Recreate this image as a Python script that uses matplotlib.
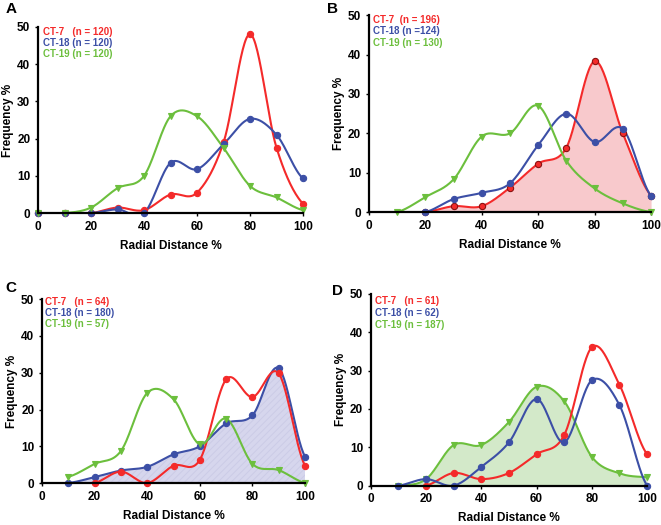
import numpy as np
import matplotlib.pyplot as plt

plt.rcParams['font.family'] = ['Liberation Sans', 'DejaVu Sans']
plt.rcParams['font.weight'] = 'bold'
plt.rcParams['hatch.linewidth'] = 0.6

RED = '#f42a2a'
BLUE = '#3c4fa6'
GREEN = '#6cbf3d'

# panel A
a_x = [0, 10, 20, 30, 40, 50, 60, 70, 80, 90, 100]
a_ct7 = [0, 0, 0, 1.5, 0.8, 5, 5.5, 19, 48, 17.5, 2.5]
a_ct18 = [0, 0, 0, 1, 0, 13.5, 11.8, 18.5, 25.3, 21, 9.3]
a_ct19 = [0, 0, 1.5, 6.7, 10, 26, 26, 17.5, 7.3, 4.2, 0.8]
a_labels = ['CT-7   (n = 120)', 'CT-18 (n = 120)', 'CT-19 (n = 120)']

# panel B
b_x7 = [20, 30, 40, 50, 60, 70, 80, 90, 100]
b_ct7 = [0, 1.5, 1.5, 6.2, 12.3, 16.4, 38.3, 20, 4.2]
b_x18 = [20, 30, 40, 50, 60, 70, 80, 90, 100]
b_ct18 = [0, 3.3, 4.9, 7.3, 17, 25, 17.8, 21.1, 4.1]
b_x19 = [10, 20, 30, 40, 50, 60, 70, 80, 90, 100]
b_ct19 = [0, 3.8, 8.3, 19.2, 20, 27, 13, 6, 2.2, 0]
b_labels = ['CT-7  (n = 196)', 'CT-18 (n =124)', 'CT-19 (n = 130)']

# panel C
c_x7 = [20, 30, 40, 50, 60, 70, 80, 90, 100]
c_ct7 = [0, 3.1, 0, 4.7, 6.3, 28.2, 23.4, 29.8, 4.7]
c_x18 = [10, 20, 30, 40, 50, 60, 70, 80, 90, 100]
c_ct18 = [0, 1.6, 3.4, 4.4, 7.8, 10, 16.2, 18.4, 31.2, 7.2]
c_x19 = [10, 20, 30, 40, 50, 60, 70, 80, 90, 100]
c_ct19 = [1.7, 5.2, 8.7, 24.5, 22.8, 10.5, 17.5, 5.2, 3.5, 0]
c_labels = ['CT-7   (n = 64)', 'CT-18 (n = 180)', 'CT-19 (n = 57)']

# panel D
d_x7 = [20, 30, 40, 50, 60, 70, 80, 90, 100]
d_ct7 = [0, 3.3, 1.7, 3.3, 8.2, 13.2, 36.1, 26.3, 8.2]
d_x18 = [10, 20, 30, 40, 50, 60, 70, 80, 90, 100]
d_ct18 = [0, 1.7, 0, 4.9, 11.3, 22.6, 11.3, 27.5, 21, 0]
d_x19 = [10, 20, 30, 40, 50, 60, 70, 80, 90, 100]
d_ct19 = [0, 1.7, 10.6, 10.6, 16.6, 25.8, 22, 7.5, 3.2, 2.2]
d_labels = ['CT-7   (n = 61)', 'CT-18 (n = 62)', 'CT-19 (n = 187)']


def smooth(x, y, n=30):
    # catmull-rom, like excel's smoothed lines
    x = np.asarray(x, float)
    y = np.asarray(y, float)
    px = np.concatenate([[2 * x[0] - x[1]], x, [2 * x[-1] - x[-2]]])
    py = np.concatenate([[y[0]], y, [y[-1]]])
    xs, ys = [], []
    t = np.linspace(0, 1, n)
    for i in range(1, len(px) - 2):
        p0, p1, p2, p3 = [np.array([px[j], py[j]]) for j in range(i - 1, i + 3)]
        m1 = (p2 - p0) / 2
        m2 = (p3 - p1) / 2
        h00 = 2 * t**3 - 3 * t**2 + 1
        h10 = t**3 - 2 * t**2 + t
        h01 = -2 * t**3 + 3 * t**2
        h11 = t**3 - t**2
        pts = (np.outer(h00, p1) + np.outer(h10, m1) + np.outer(h01, p2) + np.outer(h11, m2))
        xs.append(pts[:, 0])
        ys.append(pts[:, 1])
    return np.concatenate(xs), np.concatenate(ys)


def series(ax, x, y, color, marker, edge=None, fill=None, hatch=None):
    sx, sy = smooth(x, y)
    if fill is not None:
        ax.fill_between(sx, 0, np.clip(sy, 0, None), facecolor=fill, edgecolor=hatch or fill,
                        hatch=hatch and '/////', linewidth=0, zorder=1)
    ax.plot(sx, sy, color=color, lw=1.5, zorder=3)
    ax.plot(x, y, linestyle='none', marker=marker, ms=4.5 if marker == 'o' else 5,
            color=color, mec=edge or color, mew=0.8, clip_on=False, zorder=4)


def setup(ax, letter, labels, ly, dy, lx, letter_xy):
    ax.set_xlim(0, 100)
    ax.set_ylim(0, 50)
    ax.set_xticks(range(0, 101, 20))
    ax.set_yticks(range(0, 51, 10))
    for s in ['top', 'right']:
        ax.spines[s].set_visible(False)
    for s in ['left', 'bottom']:
        ax.spines[s].set_linewidth(1.6)
        ax.spines[s].set_zorder(5)
    ax.tick_params(length=2.5, width=1, labelsize=8.5, pad=3)
    for lbl in ax.get_xticklabels() + ax.get_yticklabels():
        lbl.set_fontweight('bold')
    ax.set_xlabel('Radial Distance %', fontsize=8.5, fontweight='bold', labelpad=5)
    ax.set_ylabel('Frequency %', fontsize=8.5, fontweight='bold', labelpad=2)
    for i, (txt, c) in enumerate(zip(labels, [RED, BLUE, GREEN])):
        ax.text(lx, ly - i * dy, txt, color=c, fontsize=7, fontweight='bold',
                transform=ax.transAxes, va='center', ha='left')
    fig.text(letter_xy[0], letter_xy[1], letter, fontsize=11, fontweight='bold',
             ha='left', va='center')


fig = plt.figure(figsize=(6.61, 5.25), dpi=100)

axA = fig.add_axes([0.0575, 0.594, 0.401, 0.355])
series(axA, a_x, a_ct7, RED, 'o')
series(axA, a_x, a_ct18, BLUE, 'o')
series(axA, a_x, a_ct19, GREEN, 'v')
setup(axA, 'A', a_labels, 0.973, 0.059, 0.02, (0.008, 0.983))

axB = fig.add_axes([0.558, 0.596, 0.427, 0.375])
series(axB, b_x7, b_ct7, RED, 'o', edge='#8a1010', fill='#f8c9cc')
series(axB, b_x18, b_ct18, BLUE, 'o')
series(axB, b_x19, b_ct19, GREEN, 'v')
setup(axB, 'B', b_labels, 0.975, 0.057, 0.015, (0.494, 0.983))

axC = fig.add_axes([0.0635, 0.08, 0.398, 0.35])
series(axC, c_x18, c_ct18, BLUE, 'o', fill='#d6d6ed', hatch='#cacae6')
series(axC, c_x7, c_ct7, RED, 'o')
series(axC, c_x19, c_ct19, GREEN, 'v')
setup(axC, 'C', c_labels, 0.984, 0.06, 0.012, (0.008, 0.451))

axD = fig.add_axes([0.561, 0.075, 0.418, 0.365])
series(axD, d_x19, d_ct19, GREEN, 'v', fill='#d3e9c9')
series(axD, d_x7, d_ct7, RED, 'o')
series(axD, d_x18, d_ct18, BLUE, 'o')
setup(axD, 'D', d_labels, 0.964, 0.062, 0.015, (0.503, 0.446))

fig.savefig('out.png', dpi=100)
